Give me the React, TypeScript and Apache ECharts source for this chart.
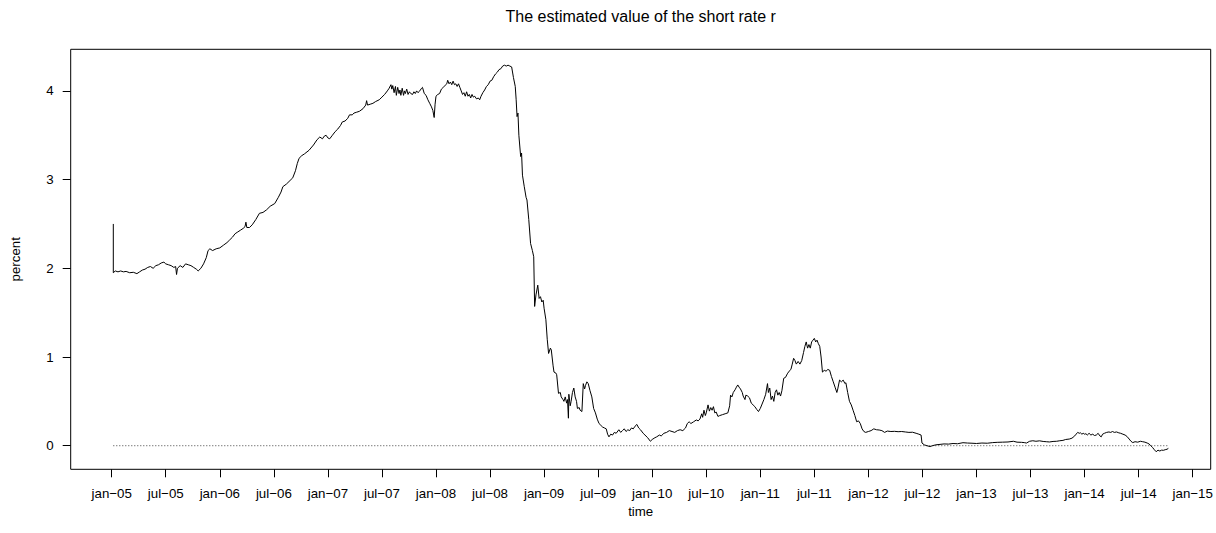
import React, { useEffect, useRef } from "react";
import * as echarts from "echarts";

// [months since January 2005, estimated short rate in percent]
const rate2005to2006: [number, number][] = [
  [0.18, 2.5], [0.18, 1.95], [0.4, 1.97], [0.7, 1.96], [1.0, 1.97], [1.3, 1.96], [1.6, 1.965], [2.0, 1.95],
  [2.4, 1.955], [2.8, 1.94], [3.1, 1.96], [3.4, 1.98], [3.7, 1.99], [4.0, 2.01], [4.3, 2.02], [4.6, 2.0],
  [4.9, 2.03], [5.2, 2.04], [5.5, 2.06], [5.8, 2.07], [6.0, 2.05], [6.3, 2.04], [6.6, 2.03], [6.9, 2.01],
  [7.1, 2.02], [7.2, 1.93], [7.3, 2.0], [7.6, 2.03], [7.9, 2.01], [8.2, 2.05], [8.5, 2.04], [8.8, 2.03],
  [9.1, 2.01], [9.4, 1.99], [9.6, 1.97], [9.9, 2.0], [10.2, 2.05], [10.5, 2.12], [10.7, 2.2], [10.9, 2.22],
  [11.2, 2.2], [11.6, 2.22], [12.0, 2.23], [12.4, 2.26], [12.8, 2.29], [13.1, 2.32], [13.4, 2.35], [13.7, 2.39],
  [14.0, 2.41], [14.3, 2.43], [14.6, 2.45], [14.8, 2.47], [14.9, 2.52], [15.0, 2.46], [15.3, 2.46], [15.6, 2.49],
  [16.0, 2.55], [16.4, 2.62], [16.8, 2.63], [17.2, 2.66], [17.6, 2.7], [18.1, 2.73], [18.5, 2.8], [18.8, 2.86],
  [19.0, 2.92], [19.4, 2.95], [19.8, 2.99], [20.1, 3.02], [20.4, 3.1], [20.6, 3.18], [20.8, 3.24], [21.1, 3.27],
  [21.4, 3.29], [21.9, 3.33], [22.4, 3.39], [22.8, 3.45], [23.1, 3.48], [23.4, 3.46], [23.6, 3.49], [23.8, 3.5],
];

const rate2007to2008: [number, number][] = [
  [24.0, 3.47], [24.2, 3.46], [24.5, 3.5], [24.8, 3.54], [25.1, 3.57], [25.4, 3.61], [25.6, 3.65], [25.9, 3.66],
  [26.2, 3.69], [26.4, 3.73], [26.7, 3.73], [26.9, 3.75], [27.2, 3.76], [27.5, 3.77], [27.9, 3.8], [28.2, 3.84],
  [28.3, 3.89], [28.4, 3.84], [28.7, 3.85], [29.0, 3.86], [29.3, 3.88], [29.7, 3.9], [30.0, 3.93], [30.3, 3.96],
  [30.6, 4.0], [30.8, 4.03], [31.0, 4.07], [31.1, 4.02], [31.2, 4.06], [31.35, 3.98], [31.5, 4.05], [31.6, 3.95],
  [31.75, 4.04], [31.9, 3.97], [32.0, 4.01], [32.1, 3.95], [32.25, 4.03], [32.4, 3.95], [32.5, 4.0], [32.6, 3.97],
  [32.75, 4.02], [32.9, 3.96], [33.05, 3.99], [33.2, 3.97], [33.4, 3.96], [33.55, 3.99], [33.7, 3.97], [33.85, 4.0],
  [34.0, 3.98], [34.2, 4.0], [34.4, 4.03], [34.5, 4.04], [34.7, 3.97], [34.9, 3.95], [35.1, 3.9], [35.3, 3.86],
  [35.5, 3.82], [35.65, 3.78], [35.8, 3.7], [35.9, 3.85], [36.0, 3.94], [36.2, 3.96], [36.4, 3.97], [36.6, 4.02],
  [36.8, 4.04], [37.0, 4.06], [37.2, 4.08], [37.3, 4.12], [37.45, 4.08], [37.6, 4.1], [37.75, 4.07], [37.9, 4.11],
  [38.05, 4.07], [38.2, 4.08], [38.35, 4.05], [38.5, 4.08], [38.65, 4.04], [38.8, 4.0], [38.95, 3.96], [39.1, 3.98],
  [39.25, 3.94], [39.4, 3.99], [39.55, 3.94], [39.7, 3.96], [39.85, 3.92], [40.0, 3.96], [40.15, 3.93], [40.3, 3.94],
  [40.5, 3.91], [40.7, 3.92], [40.85, 3.9], [41.0, 3.94], [41.2, 3.98], [41.4, 4.01], [41.6, 4.05], [41.8, 4.07],
  [42.0, 4.11], [42.2, 4.12], [42.4, 4.16], [42.6, 4.19], [42.8, 4.21], [43.0, 4.24], [43.2, 4.25], [43.4, 4.28],
  [43.6, 4.29], [43.8, 4.28], [44.0, 4.29], [44.2, 4.28], [44.4, 4.27], [44.6, 4.15], [44.8, 4.05], [44.9, 3.9],
  [45.0, 3.71], [45.1, 3.75], [45.2, 3.5], [45.4, 3.26], [45.5, 3.3], [45.6, 3.05], [45.8, 2.92], [46.0, 2.8],
  [46.1, 2.77], [46.3, 2.55], [46.5, 2.28], [46.7, 2.2], [46.85, 2.13], [46.95, 1.57], [47.1, 1.7], [47.3, 1.81],
  [47.45, 1.66], [47.6, 1.68], [47.75, 1.62], [47.9, 1.64],
];

const rate2009to2010: [number, number][] = [
  [48.0, 1.55], [48.2, 1.42], [48.35, 1.2], [48.5, 1.04], [48.7, 1.1], [48.8, 1.08], [49.0, 0.9], [49.1, 0.83],
  [49.3, 0.82], [49.4, 0.8], [49.6, 0.59], [49.8, 0.6], [49.9, 0.55], [50.1, 0.52], [50.2, 0.5], [50.35, 0.55],
  [50.5, 0.48], [50.6, 0.52], [50.7, 0.31], [50.75, 0.58], [50.9, 0.45], [51.0, 0.5], [51.15, 0.6], [51.3, 0.65],
  [51.45, 0.55], [51.6, 0.5], [51.7, 0.42], [51.9, 0.43], [52.0, 0.4], [52.2, 0.385], [52.35, 0.7], [52.5, 0.64],
  [52.6, 0.68], [52.75, 0.72], [52.9, 0.7], [53.1, 0.62], [53.3, 0.55], [53.5, 0.42], [53.7, 0.37], [53.9, 0.3],
  [54.1, 0.25], [54.3, 0.23], [54.5, 0.21], [54.7, 0.2], [54.9, 0.19], [55.05, 0.13], [55.2, 0.1], [55.4, 0.13],
  [55.6, 0.12], [55.8, 0.15], [56.0, 0.14], [56.3, 0.18], [56.5, 0.15], [56.7, 0.17], [56.9, 0.19], [57.1, 0.16],
  [57.3, 0.18], [57.5, 0.17], [57.7, 0.2], [57.9, 0.19], [58.1, 0.22], [58.3, 0.24], [58.5, 0.2], [58.7, 0.18],
  [59.0, 0.14], [59.2, 0.12], [59.5, 0.09], [59.8, 0.05], [60.0, 0.07], [60.3, 0.09], [60.5, 0.1], [60.8, 0.12],
  [61.0, 0.11], [61.3, 0.14], [61.6, 0.15], [61.9, 0.17], [62.2, 0.16], [62.5, 0.15], [62.8, 0.17], [63.1, 0.18],
  [63.4, 0.17], [63.7, 0.2], [63.9, 0.25], [64.1, 0.27], [64.3, 0.25], [64.6, 0.27], [64.9, 0.29], [65.1, 0.28],
  [65.3, 0.3], [65.5, 0.36], [65.6, 0.32], [65.75, 0.4], [65.9, 0.34], [66.0, 0.37], [66.2, 0.46], [66.35, 0.39],
  [66.5, 0.43], [66.65, 0.4], [66.8, 0.44], [66.95, 0.37], [67.1, 0.38], [67.3, 0.33], [67.5, 0.34], [67.8, 0.35],
  [68.1, 0.36], [68.4, 0.37], [68.6, 0.45], [68.7, 0.57], [68.85, 0.55], [69.0, 0.6], [69.2, 0.63], [69.35, 0.66],
  [69.5, 0.685], [69.65, 0.66], [69.8, 0.64], [70.0, 0.6], [70.1, 0.56], [70.3, 0.52], [70.4, 0.57], [70.6, 0.56],
  [70.8, 0.54], [71.0, 0.48], [71.2, 0.46], [71.4, 0.44], [71.6, 0.41], [71.8, 0.385],
];

const rate2011to2012: [number, number][] = [
  [72.0, 0.42], [72.2, 0.47], [72.4, 0.52], [72.6, 0.58], [72.8, 0.7], [72.9, 0.6], [73.05, 0.65], [73.2, 0.52],
  [73.35, 0.56], [73.5, 0.5], [73.65, 0.6], [73.8, 0.63], [73.95, 0.57], [74.1, 0.6], [74.25, 0.56], [74.4, 0.62],
  [74.6, 0.76], [74.8, 0.77], [75.0, 0.81], [75.2, 0.84], [75.4, 0.86], [75.55, 0.92], [75.7, 0.985], [75.85, 0.96],
  [76.0, 0.92], [76.2, 0.95], [76.4, 0.92], [76.6, 0.96], [76.8, 1.05], [76.95, 1.12], [77.1, 1.17], [77.25, 1.1],
  [77.4, 1.14], [77.55, 1.1], [77.7, 1.17], [77.85, 1.19], [78.0, 1.21], [78.15, 1.17], [78.3, 1.19], [78.45, 1.15],
  [78.6, 1.12], [78.75, 1.0], [78.9, 0.83], [79.1, 0.85], [79.3, 0.84], [79.5, 0.86], [79.7, 0.85], [79.9, 0.78],
  [80.1, 0.72], [80.3, 0.66], [80.5, 0.6], [80.6, 0.64], [80.8, 0.74], [81.0, 0.72], [81.2, 0.74], [81.4, 0.7],
  [81.5, 0.71], [81.7, 0.6], [81.9, 0.5], [82.1, 0.46], [82.3, 0.4], [82.5, 0.34], [82.7, 0.27], [82.9, 0.28],
  [83.1, 0.25], [83.3, 0.19], [83.5, 0.16], [83.7, 0.15], [84.0, 0.16], [84.3, 0.17], [84.6, 0.19], [84.9, 0.18],
  [85.2, 0.177], [85.5, 0.17], [85.8, 0.15], [86.1, 0.165], [86.5, 0.16], [86.9, 0.162], [87.3, 0.158], [87.7, 0.16],
  [88.1, 0.155], [88.5, 0.15], [88.9, 0.152], [89.3, 0.14], [89.6, 0.13], [89.85, 0.12], [89.95, 0.03], [90.2, 0.01],
  [90.5, 0.0], [90.85, -0.01], [91.1, 0.0], [91.5, 0.01], [91.95, 0.015], [92.4, 0.02], [92.9, 0.018], [93.4, 0.025],
  [93.9, 0.022], [94.5, 0.034], [95.0, 0.03], [95.5, 0.028],
];

const rate2013to2014: [number, number][] = [
  [96.0, 0.025], [96.6, 0.03], [97.2, 0.028], [97.8, 0.035], [98.3, 0.038], [98.9, 0.04], [99.5, 0.042], [100.1, 0.05],
  [100.5, 0.04], [101.0, 0.038], [101.3, 0.035], [101.55, 0.03], [101.9, 0.05], [102.25, 0.056], [102.6, 0.05], [103.0, 0.055],
  [103.4, 0.048], [103.75, 0.045], [104.1, 0.042], [104.5, 0.048], [104.9, 0.05], [105.25, 0.056], [105.6, 0.06], [105.9, 0.07],
  [106.3, 0.075], [106.6, 0.085], [106.9, 0.11], [107.05, 0.13], [107.25, 0.15], [107.4, 0.14], [107.55, 0.145], [107.7, 0.13],
  [107.85, 0.14], [108.0, 0.13], [108.15, 0.135], [108.3, 0.12], [108.5, 0.14], [108.7, 0.12], [108.9, 0.13], [109.1, 0.115],
  [109.3, 0.12], [109.5, 0.14], [109.7, 0.11], [109.85, 0.1], [110.0, 0.13], [110.2, 0.14], [110.45, 0.15], [110.7, 0.155],
  [110.9, 0.15], [111.1, 0.16], [111.3, 0.15], [111.55, 0.155], [111.8, 0.145], [112.0, 0.14], [112.25, 0.13], [112.5, 0.12],
  [112.7, 0.105], [112.95, 0.075], [113.15, 0.05], [113.35, 0.035], [113.6, 0.045], [113.9, 0.04], [114.2, 0.05], [114.45, 0.045],
  [114.7, 0.04], [114.95, 0.03], [115.15, 0.02], [115.35, 0.0], [115.55, -0.02], [115.7, -0.04], [115.95, -0.068], [116.15, -0.05],
  [116.35, -0.06], [116.55, -0.05], [116.75, -0.052], [116.95, -0.045], [117.15, -0.04], [117.3, -0.03],
];

// tick positions (months since January 2005) and their labels
const tickMonths: number[] = [0, 6, 12, 18, 24, 30, 36, 42, 48, 54, 60, 66, 72, 78, 84, 90, 96, 102, 108, 114, 120];
const tickLabels: string[] = [
  "jan−05", "jul−05", "jan−06", "jul−06", "jan−07", "jul−07", "jan−08", "jul−08", "jan−09", "jul−09",
  "jan−10", "jul−10", "jan−11", "jul−11", "jan−12", "jul−12", "jan−13", "jul−13", "jan−14", "jul−14", "jan−15",
];
const yTicks: number[] = [0, 1, 2, 3, 4];

const FONT = "'Liberation Sans', Arial, Helvetica, sans-serif";

export default function App() {
  const ref = useRef<HTMLDivElement>(null);
  useEffect(() => {
    if (!ref.current) return;
    const chart = echarts.init(ref.current, undefined, { renderer: "svg" });
    const lineData = [
      ...rate2005to2006,
      ...rate2007to2008,
      ...rate2009to2010,
      ...rate2011to2012,
      ...rate2013to2014,
    ];
    const zeroData = [
      [lineData[0][0], 0],
      [lineData[lineData.length - 1][0], 0],
    ];
    chart.setOption({
      animation: false,
      backgroundColor: "#ffffff",
      textStyle: { fontFamily: FONT },
      grid: {
        left: 70.7,
        right: 5.3,
        top: 49.3,
        bottom: 63.7,
        show: true,
        borderColor: "#000",
        borderWidth: 1,
        backgroundColor: "transparent",
      },
      graphic: [
        {
          type: "text",
          x: 640.7,
          y: 16,
          style: {
            text: "The estimated value of the short rate r",
            fill: "#000",
            font: `16px ${FONT}`,
            textAlign: "center",
            textVerticalAlign: "middle",
          },
        },
      ],
      xAxis: {
        type: "value",
        min: -4.55,
        max: 122.0,
        name: "time",
        nameLocation: "middle",
        nameGap: 33,
        nameTextStyle: { color: "#000", fontSize: 13.3, fontFamily: FONT },
        axisLine: { show: false, onZero: false },
        splitLine: { show: false },
        axisTick: {
          show: true,
          length: 8,
          lineStyle: { color: "#000", width: 1 },
          customValues: tickMonths,
        },
        axisLabel: {
          color: "#000",
          fontSize: 13.3,
          fontFamily: FONT,
          margin: 18,
          customValues: tickMonths,
          formatter: (v: number) => {
            const i = tickMonths.indexOf(Math.round(v));
            return i >= 0 ? tickLabels[i] : "";
          },
        },
      },
      yAxis: {
        type: "value",
        min: -0.266,
        max: 4.469,
        name: "percent",
        nameLocation: "middle",
        nameGap: 49,
        nameRotate: 90,
        nameTextStyle: { color: "#000", fontSize: 13.3, fontFamily: FONT },
        axisLine: { show: false, onZero: false },
        splitLine: { show: false },
        axisTick: {
          show: true,
          length: 8,
          lineStyle: { color: "#000", width: 1 },
          customValues: yTicks,
        },
        axisLabel: {
          color: "#000",
          fontSize: 13.3,
          fontFamily: FONT,
          margin: 17,
          customValues: yTicks,
          formatter: (v: number) => String(Math.round(v)),
        },
      },
      series: [
        {
          type: "line",
          data: zeroData,
          symbol: "none",
          silent: true,
          lineStyle: { color: "#444", width: 1, type: [1, 2] },
          z: 1,
        },
        {
          type: "line",
          data: lineData,
          symbol: "none",
          showSymbol: false,
          silent: true,
          lineStyle: { color: "#000", width: 1 },
          z: 2,
        },
      ],
    });
    return () => chart.dispose();
  }, []);
  return (
    <div
      ref={ref}
      style={{ position: "absolute", left: 0, top: 0, width: 1216, height: 533, background: "#fff" }}
    />
  );
}
